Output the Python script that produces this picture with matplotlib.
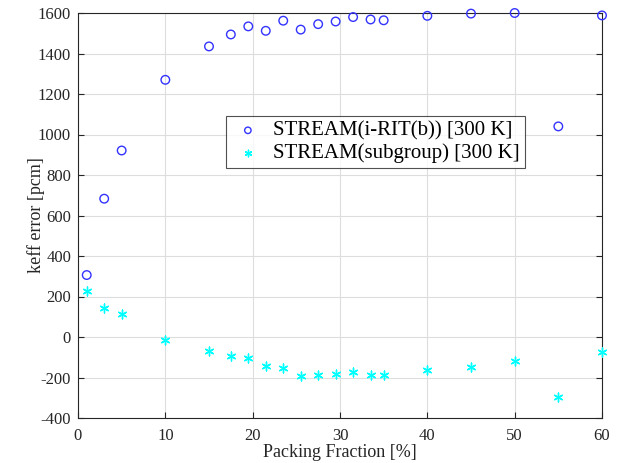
import matplotlib
matplotlib.use("Agg")
import matplotlib.pyplot as plt

packing = [1, 3, 5, 10, 15, 17.5, 19.5, 21.5, 23.5, 25.5, 27.5, 29.5, 31.5, 33.5, 35, 40, 45, 50, 55, 60]
irit = [306, 683, 921, 1270, 1435, 1494, 1534, 1512, 1562, 1518, 1545, 1558, 1580, 1568, 1564, 1586, 1597, 1600, 1040, 1588]
subgroup = [226, 144, 114, -15, -69, -93, -103, -143, -152, -195, -190, -185, -174, -190, -190, -164, -148, -120, -295, -74]

xticks = [0, 10, 20, 30, 40, 50, 60]
yticks = [-400, -200, 0, 200, 400, 600, 800, 1000, 1200, 1400, 1600]

plt.rcParams['font.family'] = ['Liberation Serif', 'DejaVu Serif']
plt.rcParams['axes.unicode_minus'] = False

fig = plt.figure(figsize=(6.21, 4.63), dpi=100)
ax = fig.add_axes([78/621, 1-418/463, (602-78)/621, (418-13)/463])

ax.scatter(packing, irit, s=38, facecolors='none', edgecolors='#3333ff', linewidths=1.0,
           label='STREAM(i-RIT(b)) [300 K]', clip_on=False, zorder=3)
ax.scatter(packing, subgroup, s=40, marker=(6, 2, 0), color='#00ffff', linewidths=1.0,
           label='STREAM(subgroup) [300 K]', clip_on=False, zorder=3)

ax.set_xlim(0, 60)
ax.set_ylim(-400, 1600)
ax.set_xticks(xticks)
ax.set_yticks(yticks)
ax.grid(True, color='#dddddd', linewidth=0.8)
ax.set_axisbelow(True)
ax.tick_params(direction='in', length=4, labelsize=12, colors='#262626',
               top=False, right=True)
ax.tick_params(axis='x', pad=7)
ax.tick_params(axis='y', pad=5)
for s in ax.spines.values():
    s.set_color('#262626')
    s.set_linewidth(0.8)

ax.set_xlabel('Packing Fraction [%]', fontsize=13, color='#262626', labelpad=0)
ax.set_ylabel('keff error [pcm]', fontsize=13, color='#262626', labelpad=-5)

leg = ax.legend(loc='upper left', bbox_to_anchor=((226-78)/524, (418-116)/405),
                fontsize=15, frameon=True, fancybox=False, handletextpad=0.4,
                borderpad=0.25, labelspacing=0.12, handlelength=1.6, markerscale=0.75,
                borderaxespad=0)
leg.get_frame().set_edgecolor('#262626')
leg.get_frame().set_linewidth(0.8)

fig.savefig('out.png', dpi=100)
